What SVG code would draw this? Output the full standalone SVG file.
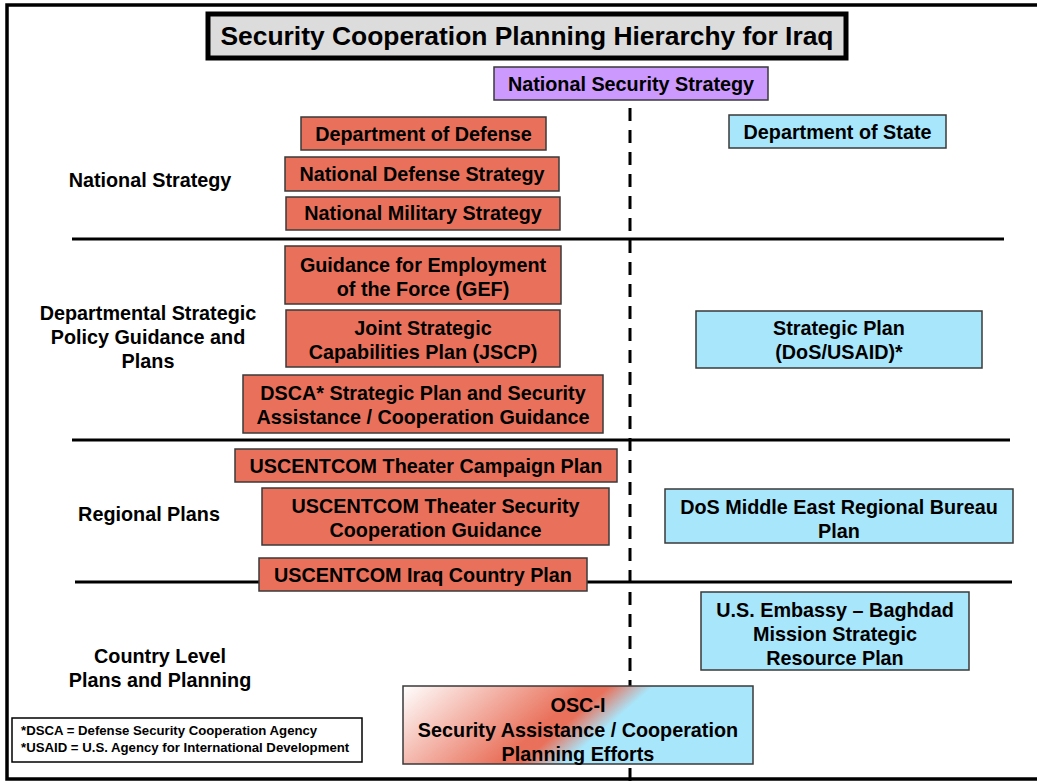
<svg xmlns="http://www.w3.org/2000/svg" width="1037" height="782" viewBox="0 0 1037 782">
<defs>
<style>
.t{font-family:"Liberation Sans",Arial,sans-serif;font-weight:bold;fill:#000;text-anchor:middle}
.bx{font-size:19.8px}
.lbl{font-size:19.8px}
.lg{font-size:13.2px;text-anchor:start}
.org{fill:#e9715b;stroke:#3a3a3a;stroke-width:1.5}
.blu{fill:#a8e6fb;stroke:#3a3a3a;stroke-width:1.5}
.div{stroke:#000;stroke-width:3}
</style>
<linearGradient id="oscg" gradientUnits="userSpaceOnUse" x1="403" y1="686" x2="592" y2="904">
<stop offset="0" stop-color="#ffffff"/>
<stop offset="0.42" stop-color="#e9715b"/>
<stop offset="0.47" stop-color="#e9715b"/>
<stop offset="0.57" stop-color="#a8e6fb"/>
<stop offset="1" stop-color="#a8e6fb"/>
</linearGradient>
</defs>
<rect x="0" y="0" width="1037" height="782" fill="#fff"/>
<rect x="7" y="5" width="1045" height="774" fill="none" stroke="#000" stroke-width="3.5"/>

<g id="title">
<rect x="208" y="14" width="638" height="44" fill="#dcdcdc" stroke="#000" stroke-width="5"/>
<text class="t" x="527" y="45" font-size="26.4">Security Cooperation Planning Hierarchy for Iraq</text>
</g>

<g id="connectors">
<line class="div" x1="72" y1="239" x2="1004" y2="239"/>
<line class="div" x1="72" y1="440" x2="1010" y2="440" stroke-width="2.5"/>
<line class="div" x1="75" y1="582" x2="1012" y2="582"/>
<line x1="630" y1="108" x2="630" y2="782" stroke="#000" stroke-width="3" stroke-dasharray="13 9"/>
</g>

<g id="labels">
<text class="t lbl" x="150" y="187">National Strategy</text>
<text class="t lbl" x="148" y="320">Departmental Strategic</text>
<text class="t lbl" x="148" y="344">Policy Guidance and</text>
<text class="t lbl" x="148" y="368">Plans</text>
<text class="t lbl" x="149" y="521">Regional Plans</text>
<text class="t lbl" x="160" y="663">Country Level</text>
<text class="t lbl" x="160" y="687">Plans and Planning</text>
</g>

<g id="nss">
<rect x="494" y="67" width="274" height="33" fill="#cc99ff" stroke="#3a3a3a" stroke-width="1.5"/>
<text class="t bx" x="631" y="91">National Security Strategy</text>
</g>

<g id="dod">
<rect class="org" x="301" y="117" width="245" height="33"/>
<text class="t bx" x="423.5" y="141">Department of Defense</text>
</g>
<g id="nds">
<rect class="org" x="285" y="157" width="274" height="34"/>
<text class="t bx" x="422" y="181">National Defense Strategy</text>
</g>
<g id="nms">
<rect class="org" x="286" y="197" width="274" height="33"/>
<text class="t bx" x="423" y="220">National Military Strategy</text>
</g>
<g id="gef">
<rect class="org" x="285" y="246" width="276" height="58"/>
<text class="t bx" x="423" y="272">Guidance for Employment</text>
<text class="t bx" x="423" y="296">of the Force (GEF)</text>
</g>
<g id="jscp">
<rect class="org" x="286" y="310" width="274" height="57"/>
<text class="t bx" x="423" y="335">Joint Strategic</text>
<text class="t bx" x="423" y="359">Capabilities Plan (JSCP)</text>
</g>
<g id="dsca">
<rect class="org" x="243" y="375" width="360" height="58"/>
<text class="t bx" x="423" y="400">DSCA* Strategic Plan and Security</text>
<text class="t bx" x="423" y="424">Assistance / Cooperation Guidance</text>
</g>
<g id="tcp">
<rect class="org" x="235" y="449" width="382" height="33"/>
<text class="t bx" x="426" y="473">USCENTCOM Theater Campaign Plan</text>
</g>
<g id="tscg">
<rect class="org" x="262" y="488" width="347" height="57"/>
<text class="t bx" x="435.5" y="513">USCENTCOM Theater Security</text>
<text class="t bx" x="435.5" y="537">Cooperation Guidance</text>
</g>
<g id="icp">
<rect class="org" x="259" y="558" width="328" height="33"/>
<text class="t bx" x="423" y="582">USCENTCOM Iraq Country Plan</text>
</g>

<g id="dos">
<rect class="blu" x="729" y="115" width="217" height="33"/>
<text class="t bx" x="837.5" y="139">Department of State</text>
</g>
<g id="sp">
<rect class="blu" x="696" y="311" width="286" height="57"/>
<text class="t bx" x="839" y="335">Strategic Plan</text>
<text class="t bx" x="839" y="359">(DoS/USAID)*</text>
</g>
<g id="dosme">
<rect class="blu" x="665" y="489" width="348" height="54"/>
<text class="t bx" x="839" y="514">DoS Middle East Regional Bureau</text>
<text class="t bx" x="839" y="538">Plan</text>
</g>
<g id="embassy">
<rect class="blu" x="701" y="592" width="268" height="78"/>
<text class="t bx" x="835" y="617">U.S. Embassy – Baghdad</text>
<text class="t bx" x="835" y="641">Mission Strategic</text>
<text class="t bx" x="835" y="665">Resource Plan</text>
</g>
<g id="osci">
<rect x="403" y="686" width="350" height="78" fill="url(#oscg)" stroke="#3a3a3a" stroke-width="1.5"/>
<text class="t bx" x="578" y="712">OSC-I</text>
<text class="t bx" x="578" y="737">Security Assistance / Cooperation</text>
<text class="t bx" x="578" y="761">Planning Efforts</text>
</g>

<g id="legend">
<rect x="12" y="718" width="350" height="44" fill="#fff" stroke="#000" stroke-width="1.5"/>
<text class="t lg" x="21" y="735">*DSCA = Defense Security Cooperation Agency</text>
<text class="t lg" x="21" y="752">*USAID = U.S. Agency for International Development</text>
</g>
</svg>
